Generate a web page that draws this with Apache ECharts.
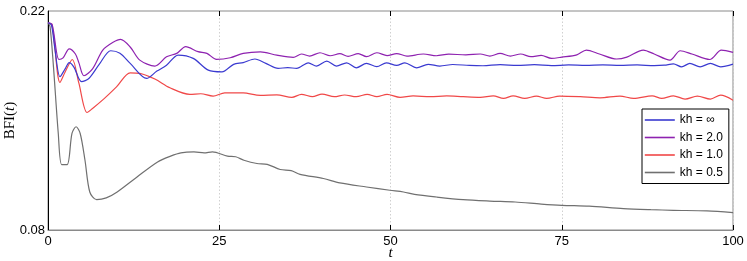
<!DOCTYPE html>
<html><head><meta charset="utf-8">
<script src="https://cdn.jsdelivr.net/npm/echarts@6/dist/echarts.min.js"></script>
<style>html,body{margin:0;padding:0;background:#fff}#c{width:747px;height:261px}</style>
</head><body><div id="c"></div>
<script>
const xTicks = [0, 25, 50, 75, 100];
const yTickLabels = ['0.08', '0.22'];
const seriesNames = ['kh = \u221E', 'kh = 2.0', 'kh = 1.0', 'kh = 0.5'];

const blueT = [0, 0.5, 1, 1.75, 2.5, 3.1, 3.8, 4.9, 6, 7.5, 9.15, 10.5, 12, 14.4, 15.9, 17.3, 19, 21.2, 23.4, 25.4, 27.1, 28.5, 30.2, 31.8, 33.6, 35, 36.3, 38, 39.2, 40.7, 42.1, 43.6, 45, 46.5, 48, 49.4, 50.9, 52.1, 53.8, 55.5, 57.2, 59.1, 61.5, 63.5, 66, 68.5, 71, 73.5, 76, 78.5, 81, 83.5, 86, 88.5, 90, 91.3, 92.5, 93.7, 95.2, 96.7, 98.2, 100];
const blueV = [0.2125, 0.211, 0.196, 0.178, 0.183, 0.187, 0.184, 0.1748, 0.177, 0.186, 0.1946, 0.193, 0.1865, 0.1769, 0.1816, 0.1853, 0.1918, 0.1897, 0.1822, 0.1811, 0.1859, 0.1870, 0.1893, 0.1865, 0.1833, 0.1838, 0.1833, 0.1869, 0.1848, 0.1880, 0.1848, 0.1869, 0.1837, 0.1865, 0.1844, 0.1869, 0.1852, 0.1869, 0.1837, 0.1859, 0.1848, 0.1858, 0.1852, 0.1850, 0.1857, 0.1852, 0.1857, 0.1851, 0.1855, 0.1852, 0.1856, 0.1852, 0.1855, 0.1851, 0.1854, 0.1862, 0.1843, 0.1865, 0.1843, 0.1865, 0.1843, 0.1860];

const purpleT = [0, 0.6, 1.6, 2.2, 3.1, 4.0, 4.5, 5.25, 6.5, 8, 9.5, 10.6, 12, 13.4, 15.6, 17.3, 18.8, 20.1, 21.9, 23.2, 24.6, 26.6, 28.5, 31, 33.4, 35.8, 37, 38.2, 39.7, 41.2, 42.6, 43.8, 45.3, 46.5, 48, 49.5, 50.9, 52.4, 54.8, 56.7, 58.5, 61, 63.1, 64.5, 66, 67.5, 69, 70.5, 72, 73.5, 75, 77.2, 78.6, 80.5, 83, 84.5, 86.9, 88.5, 90.8, 92.3, 94, 96.6, 98.3, 100];
const purpleV = [0.2125, 0.2115, 0.189, 0.1900, 0.1958, 0.1925, 0.187, 0.1786, 0.183, 0.195, 0.200, 0.2019, 0.197, 0.1886, 0.1848, 0.1907, 0.1929, 0.1972, 0.1940, 0.1929, 0.1891, 0.1901, 0.1929, 0.1939, 0.1918, 0.1904, 0.1925, 0.1912, 0.1933, 0.1914, 0.1927, 0.1910, 0.1928, 0.1908, 0.1933, 0.1915, 0.1928, 0.1912, 0.1925, 0.1914, 0.1924, 0.1920, 0.1925, 0.1912, 0.1929, 0.1912, 0.1925, 0.1908, 0.1916, 0.1897, 0.1905, 0.1920, 0.1950, 0.1925, 0.1893, 0.1905, 0.1950, 0.1925, 0.1886, 0.1946, 0.1925, 0.1890, 0.1950, 0.1935];

const redT = [0, 0.6, 1.75, 2.5, 3.55, 4.5, 5.7, 6.5, 8.2, 10, 12, 13.4, 15.6, 17.8, 20.7, 22.3, 24.1, 25.8, 28.5, 31, 33.4, 35.6, 37, 38.6, 40, 41.8, 43.3, 45, 46.6, 48, 49.5, 51.4, 53.3, 55.8, 58.2, 60.6, 63.1, 65, 66.5, 67.9, 69.6, 71.3, 72.8, 74.7, 77.7, 80.6, 83.5, 85.5, 88.2, 89.6, 91.3, 93, 94.8, 96.7, 98.2, 100];
const redV = [0.2125, 0.211, 0.1743, 0.181, 0.189, 0.174, 0.1551, 0.1577, 0.164, 0.1715, 0.1805, 0.1801, 0.1765, 0.1709, 0.1667, 0.1671, 0.1656, 0.1677, 0.1676, 0.1661, 0.1664, 0.1648, 0.1667, 0.1652, 0.1669, 0.1652, 0.1663, 0.1652, 0.1667, 0.1652, 0.1667, 0.1648, 0.1657, 0.1652, 0.1657, 0.1652, 0.1648, 0.1658, 0.1641, 0.1658, 0.1641, 0.1656, 0.1641, 0.1656, 0.1652, 0.1645, 0.1656, 0.1641, 0.1658, 0.1641, 0.1658, 0.1637, 0.1656, 0.1637, 0.1662, 0.1630];

const grayT = [0, 0.3, 0.8, 1.5, 2, 2.8, 3.5, 4.1, 4.7, 5.4, 6.1, 7.1, 8.5, 10.1, 13, 16, 17.9, 19.4, 21.3, 22.8, 24, 26.2, 27.4, 28.6, 30.5, 32, 33.9, 35.5, 36.8, 40.2, 42.6, 46.5, 49.9, 51.9, 53.5, 56.7, 60.6, 64.5, 68.2, 72, 75, 79, 84, 88, 91.3, 96.2, 100];
const grayV = [0.2125, 0.21, 0.1843, 0.1417, 0.1218, 0.1218, 0.1417, 0.146, 0.1417, 0.1246, 0.1043, 0.0994, 0.1005, 0.1043, 0.1139, 0.1235, 0.1272, 0.1293, 0.1299, 0.1293, 0.1300, 0.1272, 0.1268, 0.1246, 0.1225, 0.1220, 0.1187, 0.1180, 0.1156, 0.1129, 0.1101, 0.1075, 0.1054, 0.1043, 0.1028, 0.1011, 0.0994, 0.0985, 0.0979, 0.0966, 0.0958, 0.0952, 0.0937, 0.0930, 0.0926, 0.0922, 0.0911];

const colors = ['#3a3ad0', '#8e22b0', '#f04848', '#707070'];
const pairs = (t, v) => t.map((x, i) => [x, v[i]]);
const allData = [pairs(blueT, blueV), pairs(purpleT, purpleV), pairs(redT, redV), pairs(grayT, grayV)];

const chart = echarts.init(document.getElementById('c'), null, {renderer: 'canvas'});
const tickFont = {fontFamily: 'Liberation Sans, Arial, sans-serif', fontSize: 13, color: '#000'};
chart.setOption({
  animation: false,
  grid: {left: 48, right: 14, top: 11, bottom: 31, containLabel: false, outerBoundsMode: 'none',
         show: true, borderColor: '#8a8a8a', borderWidth: 1, backgroundColor: 'transparent'},
  xAxis: [{
    type: 'value', min: 0, max: 100, interval: 25,
    name: 't', nameLocation: 'middle', nameGap: 16, nameMoveOverlap: false,
    nameTextStyle: {fontFamily: 'Liberation Serif, serif', fontStyle: 'italic', fontSize: 15, color: '#000'},
    axisLine: {show: true, lineStyle: {color: '#8a8a8a', width: 1}},
    axisTick: {show: true, inside: true, length: 5, lineStyle: {color: '#000'}},
    axisLabel: Object.assign({margin: 5, formatter: v => xTicks.includes(v) ? String(v) : ''}, tickFont),
    splitLine: {show: true, lineStyle: {color: '#d0d0d0', type: [1.5, 2], width: 1}}
  }, {
    type: 'value', min: 0, max: 100, interval: 25, position: 'top',
    axisLine: {show: false}, axisLabel: {show: false}, splitLine: {show: false},
    axisTick: {show: true, inside: true, length: 5, lineStyle: {color: '#000'}}
  }],
  yAxis: {
    type: 'value', min: 0.08, max: 0.22, interval: 0.01,
    name: '{n|BFI(}{i|t}{n|)}', nameLocation: 'middle', nameGap: 30, nameRotate: 90, nameMoveOverlap: false,
    nameTextStyle: {rich: {
      n: {fontFamily: 'Liberation Serif, serif', fontSize: 15, color: '#000'},
      i: {fontFamily: 'Liberation Serif, serif', fontStyle: 'italic', fontSize: 15, color: '#000'}
    }},
    axisLine: {show: true, lineStyle: {color: '#000', width: 1}},
    axisTick: {show: false},
    axisLabel: Object.assign({margin: 3, formatter: v => {
      const s = v.toFixed(2); return yTickLabels.includes(s) ? s : '';
    }}, tickFont),
    splitLine: {show: false}
  },
  legend: {
    orient: 'vertical', left: 642, top: 109,
    padding: [5, 6, 5, 2], itemGap: 5.5, itemWidth: 30, itemHeight: 14,
    borderColor: '#000', borderWidth: 1, backgroundColor: '#fff', borderRadius: 0,
    itemStyle: {opacity: 0},
    lineStyle: {width: 1.6},
    textStyle: {fontFamily: 'Liberation Sans, Arial, sans-serif', fontSize: 12, color: '#000'},
    data: seriesNames
  },
  series: allData.map((d, i) => ({
    name: seriesNames[i], type: 'line', data: d,
    showSymbol: false, symbol: 'none', smooth: 0.3,
    lineStyle: {color: colors[i], width: 1.2}, itemStyle: {color: colors[i]},
    z: 3 - i
  }))
});
</script></body></html>
